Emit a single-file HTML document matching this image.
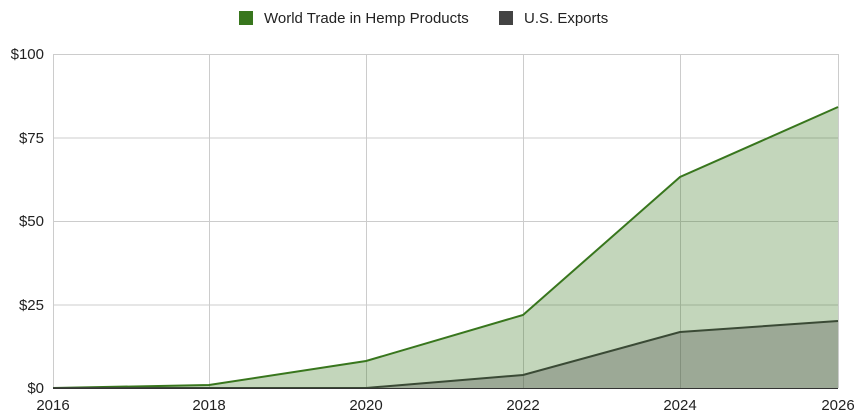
<!DOCTYPE html>
<html><head><meta charset="utf-8"><style>
html,body{margin:0;padding:0;background:#fff;}
svg{display:block;font-family:"Liberation Sans",Arial,sans-serif;}
</style></head><body>
<svg width="860" height="419" viewBox="0 0 860 419" xmlns="http://www.w3.org/2000/svg">
<rect width="860" height="419" fill="#fff"/>
<rect x="239" y="11" width="14" height="14" fill="#38761d"/>
<text x="264" y="23" font-size="15" fill="#222">World Trade in Hemp Products</text>
<rect x="499" y="11" width="14" height="14" fill="#434343"/>
<text x="524" y="23" font-size="15" fill="#222">U.S. Exports</text>
<g stroke="#cccccc" stroke-width="1">
<line x1="53" y1="54.5" x2="838" y2="54.5"/>
<line x1="53" y1="138" x2="838" y2="138"/>
<line x1="53" y1="221.5" x2="838" y2="221.5"/>
<line x1="53" y1="305" x2="838" y2="305"/>
<line x1="53.5" y1="54" x2="53.5" y2="388"/>
<line x1="209.5" y1="54" x2="209.5" y2="388"/>
<line x1="366.5" y1="54" x2="366.5" y2="388"/>
<line x1="523.5" y1="54" x2="523.5" y2="388"/>
<line x1="680.5" y1="54" x2="680.5" y2="388"/>
<line x1="838.5" y1="54" x2="838.5" y2="388"/>
</g>
<polygon points="53,388 209,385 366,361 523,315 680,177 838,107 838,388" fill="#38761d" fill-opacity="0.3"/>
<polyline points="53,388 209,385 366,361 523,315 680,177 838,107" fill="none" stroke="#38761d" stroke-width="2"/>
<polygon points="53,388 209,388 366,388 523,375 680,332 838,321 838,388" fill="#434343" fill-opacity="0.3"/>
<polyline points="53,388 209,388 366,388 523,375 680,332 838,321" fill="none" stroke="#3a4a35" stroke-width="2"/>
<line x1="53" y1="388.5" x2="838" y2="388.5" stroke="#333" stroke-width="1"/>
<g font-size="15" fill="#222" text-anchor="end">
<text x="44" y="59">$100</text>
<text x="44" y="143">$75</text>
<text x="44" y="226">$50</text>
<text x="44" y="310">$25</text>
<text x="44" y="393">$0</text>
</g>
<g font-size="15" fill="#222" text-anchor="middle">
<text x="53" y="410">2016</text>
<text x="209" y="410">2018</text>
<text x="366" y="410">2020</text>
<text x="523" y="410">2022</text>
<text x="680" y="410">2024</text>
<text x="838" y="410">2026</text>
</g>
</svg>
</body></html>
